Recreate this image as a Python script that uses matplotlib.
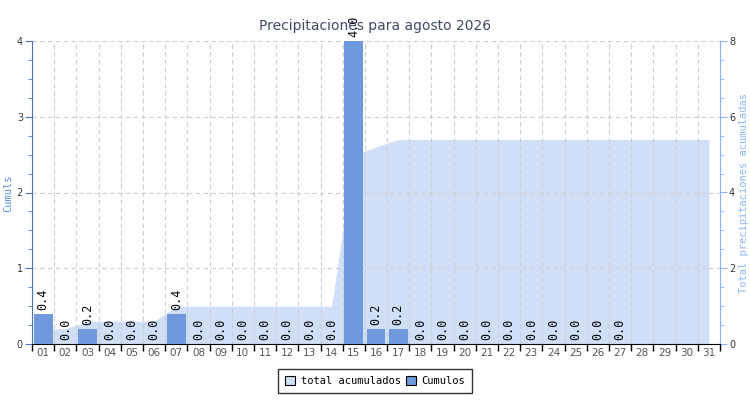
import numpy as np
import matplotlib.pyplot as plt
from matplotlib.ticker import MultipleLocator
from matplotlib.patches import Patch

days = [f"{d:02d}" for d in range(1, 32)]
cumulos = [0.4, 0.0, 0.2, 0.0, 0.0, 0.0, 0.4, 0.0, 0.0, 0.0, 0.0, 0.0, 0.0, 0.0,
           4.0, 0.2, 0.2, 0.0, 0.0, 0.0, 0.0, 0.0, 0.0, 0.0, 0.0, 0.0, 0.0]
total_acum = [0.4, 0.4, 0.6, 0.6, 0.6, 0.6, 1.0, 1.0, 1.0, 1.0, 1.0, 1.0, 1.0, 1.0,
              5.0, 5.2, 5.4, 5.4, 5.4, 5.4, 5.4, 5.4, 5.4, 5.4, 5.4, 5.4, 5.4, 5.4,
              5.4, 5.4, 5.4]

bar_color = '#7099dd'
area_color = '#d0dff8'
mono = 'DejaVu Sans Mono'

fig = plt.figure(figsize=(7.5, 4), dpi=100)
ax = fig.add_axes([0.0427, 0.14, 0.9173, 0.7575])
ax2 = ax.twinx()

x_all = np.arange(1, 32)
x_bar = np.arange(1, len(cumulos) + 1)

# area on secondary axis, drawn behind the bars
ax2.fill_between(x_all, total_acum, color=area_color, lw=0, zorder=1)
ax2.set_ylim(0, 8)
ax.set_zorder(ax2.get_zorder() + 1)
ax.patch.set_visible(False)

ax.bar(x_bar, cumulos, width=0.85, color=bar_color, zorder=3)
for xi, v in zip(x_bar, cumulos):
    ax.text(xi, v + 0.05, f"{v:.1f}", rotation=90, ha='center', va='bottom',
            fontsize=8.5, family=mono, color='black', zorder=4, clip_on=False)

ax.set_xlim(0.5, 31.5)
ax.set_ylim(0, 4)
ax.set_xticks(np.arange(0.5, 32.5, 1))
ax.set_xticklabels([])
ax.set_xticks(x_all, minor=True)
ax.set_xticklabels(days, minor=True)
ax.tick_params(axis='x', which='major', length=5, width=1, color='black')
ax.tick_params(axis='x', which='minor', length=0, labelsize=7.5, labelcolor='#555555', pad=3)
ax.xaxis.grid(True, which='major', ls=(0, (4, 3)), color='#cccccc', lw=0.8)
ax.yaxis.grid(True, which='major', ls=(0, (4, 3)), color='#cccccc', lw=0.8)
ax.set_axisbelow(True)

ax.yaxis.set_major_locator(MultipleLocator(1))
ax.yaxis.set_minor_locator(MultipleLocator(0.25))
ax.tick_params(axis='y', which='major', length=5, pad=1.5, color='#4a72c0',
               labelsize=7, labelcolor='#333333')
ax.tick_params(axis='y', which='minor', length=3, color='#4a72c0')
ax2.yaxis.set_major_locator(MultipleLocator(2))
ax2.yaxis.set_minor_locator(MultipleLocator(0.5))
ax2.tick_params(axis='y', which='major', length=5, pad=1.5, color='#8ab4f8',
                labelsize=7, labelcolor='#333333')
ax2.tick_params(axis='y', which='minor', length=3, color='#8ab4f8')

for a in (ax, ax2):
    a.spines['top'].set_visible(False)
ax.spines['right'].set_visible(False)
ax2.spines['left'].set_visible(False)
ax2.spines['bottom'].set_visible(False)
ax.spines['left'].set_color('#4a72c0')
ax2.spines['right'].set_color('#8ab4f8')
ax.spines['bottom'].set_color('black')

fig.text(8 / 750, 1 - 193 / 400, 'Cumuls', rotation=90, ha='center', va='center',
         color='#5b8de0', fontsize=7.5, family=mono)
fig.text(744 / 750, 1 - 193 / 400, 'Total precipitaciones acumuladas', rotation=90,
         ha='center', va='center', color='#8ab4f8', fontsize=7.5, family=mono)
fig.text(0.5, 0.935, 'Precipitaciones para agosto 2026', ha='center', va='center',
         fontsize=10, color='#3f4a63')

handles = [Patch(facecolor=area_color, edgecolor='black', lw=0.8, label='total acumulados'),
           Patch(facecolor=bar_color, edgecolor='black', lw=0.8, label='Cumulos')]
leg = fig.legend(handles=handles, loc='center', bbox_to_anchor=(0.5, 0.0475), ncol=2,
                 frameon=True, fancybox=False, prop={'family': mono, 'size': 7.5},
                 handlelength=1.0, handleheight=1.0, handletextpad=0.5, columnspacing=0.5,
                 borderpad=0.7, edgecolor='black')
leg.get_frame().set_linewidth(1.0)

fig.savefig('out.png', dpi=100)
